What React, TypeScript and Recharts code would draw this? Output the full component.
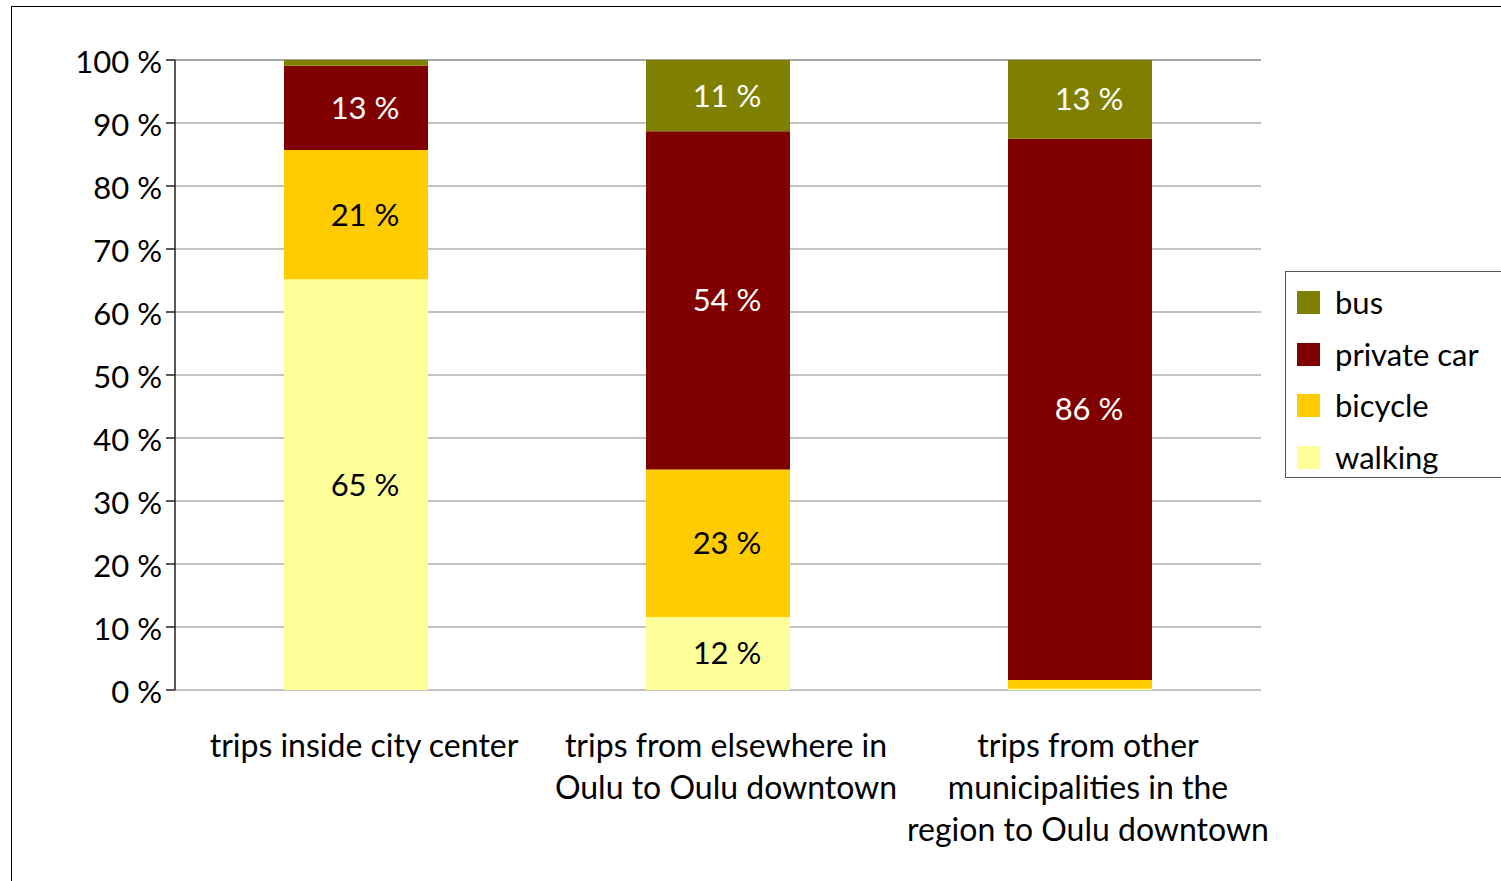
import React from 'react';
import { BarChart, Bar, XAxis, YAxis, CartesianGrid, LabelList } from 'recharts';

const categories = [
  'trips inside city center',
  'trips from elsewhere in\nOulu to Oulu downtown',
  'trips from other\nmunicipalities in the\nregion to Oulu downtown',
];
const walking = [65.2, 11.6, 0.2];
const bicycle = [20.5, 23.4, 1.4];
const privateCar = [13.4, 53.7, 85.9];
const bus = [0.9, 11.3, 12.5];
const yTicks = [0, 10, 20, 30, 40, 50, 60, 70, 80, 90, 100];
const boundaryTicks = [0, 1, 2, 3];

const series = [
  { key: 'walking', name: 'walking', color: '#FFFF99', text: '#000' },
  { key: 'bicycle', name: 'bicycle', color: '#FFCC00', text: '#000' },
  { key: 'car', name: 'private car', color: '#800000', text: '#fff' },
  { key: 'bus', name: 'bus', color: '#808000', text: '#fff' },
];

const data = categories.map((c, i) => ({
  name: c,
  idx: i,
  walking: walking[i],
  bicycle: bicycle[i],
  car: privateCar[i],
  bus: bus[i],
}));

const FONT = 'Lato, "Open Sans", sans-serif';

const CatTick = (props: any) => {
  const { x, y, payload } = props;
  const lines = String(payload.value).split('\n');
  return (
    <text x={x} y={y} textAnchor="middle" fontFamily={FONT} fontSize={32} fill="#000">
      {lines.map((l, i) => (
        <tspan key={i} x={x + 8} dy={i === 0 ? 59 : 42}>{l}</tspan>
      ))}
    </text>
  );
};

const makeLabel = (textColor: string) => (props: any) => {
  const { x, y, width, height, value } = props;
  if (value < 5) return null;
  return (
    <text x={x + width / 2 + 9} y={y + height / 2} dy={11} textAnchor="middle" fontFamily={FONT} fontSize={31} fill={textColor}>
      {`${Math.round(value)} %`}
    </text>
  );
};

const LegendBox = () => (
  <div style={{ position: 'absolute', left: 1285, top: 271, border: '1.5px solid #555', width: 240, height: 207, boxSizing: 'border-box', paddingTop: 5, paddingLeft: 11, background: '#fff' }}>
    {[...series].reverse().map((s) => (
      <div key={s.key} style={{ display: 'flex', alignItems: 'center', height: 51.5, fontFamily: FONT, fontSize: 31, color: '#000' }}>
        <span style={{ width: 23, height: 23, background: s.color, display: 'inline-block', marginRight: 15, flexShrink: 0 }} />
        <span style={{ lineHeight: '23px' }}>{s.name}</span>
      </div>
    ))}
  </div>
);

export default function App() {
  return (
    <div style={{ position: 'absolute', left: 0, top: 0, width: 1501, height: 881, overflow: 'hidden', background: '#fff' }}>
      <div style={{ position: 'absolute', left: 11, top: 6, width: 1600, height: 1000, border: '1.5px solid #000', boxSizing: 'border-box' }} />
      <div style={{ position: 'absolute', left: 0, top: 0 }}>
        <BarChart width={1501} height={881} data={data} margin={{ top: 60, right: 240, bottom: 0, left: 0 }} barSize={144} barCategoryGap="30%">
          <CartesianGrid vertical={false} stroke="#888" strokeWidth={1.2} yAxisId="left" xAxisId="cat" />
          <XAxis xAxisId="edge" type="number" dataKey="idx" domain={[0, 3]} ticks={boundaryTicks} height={0}
            tickFormatter={() => ''} tickSize={12} tickLine={{ stroke: '#222', strokeWidth: 1.5 }} axisLine={{ stroke: '#222', strokeWidth: 1.5 }} />
          <XAxis xAxisId="cat" dataKey="name" tick={<CatTick />} tickLine={false} axisLine={false} interval={0} height={191} />
          <YAxis yAxisId="left" domain={[0, 100]} ticks={yTicks} width={175} tickSize={9} tickMargin={4}
            tickFormatter={(v) => `${v} %`} axisLine={{ stroke: '#222', strokeWidth: 1.5 }} tickLine={{ stroke: '#222', strokeWidth: 1.5 }}
            tick={{ fontFamily: FONT, fontSize: 31, fill: '#000', dy: 2 }} />
          <YAxis yAxisId="right" orientation="right" domain={[0, 100]} width={0} tick={false} tickLine={false}
            axisLine={{ stroke: '#999', strokeWidth: 1.5 }} />
          {series.map((s) => (
            <Bar key={s.key} dataKey={s.key} name={s.name} stackId="a" fill={s.color} xAxisId="cat" yAxisId="left" isAnimationActive={false}>
              <LabelList dataKey={s.key} content={makeLabel(s.text)} />
            </Bar>
          ))}
        </BarChart>
      </div>
      <LegendBox />
    </div>
  );
}
